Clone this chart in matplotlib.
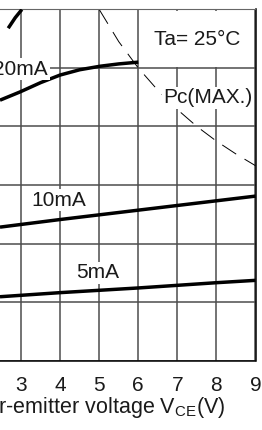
import matplotlib
matplotlib.use("Agg")
import matplotlib.pyplot as plt
from matplotlib.patches import Rectangle

plt.rcParams['font.family'] = ['Liberation Sans', 'DejaVu Sans']
plt.rcParams['lines.scale_dashes'] = False

# collector current curves (x: VCE in V, y: grid units)
vce_30 = [2.67, 2.85, 3.02]
ic_30 = [5.68, 5.86, 6.0]

vce_20 = [2.46, 2.97, 3.5, 4.0, 4.5, 5.02, 5.5, 6.0]
ic_20 = [4.45, 4.59, 4.75, 4.88, 4.97, 5.03, 5.07, 5.10]

vce_10 = [2.46, 4.0, 6.0, 8.0, 9.0]
ic_10 = [2.28, 2.41, 2.57, 2.73, 2.81]

vce_5 = [2.46, 4.0, 6.0, 8.0, 9.0]
ic_5 = [1.09, 1.16, 1.24, 1.33, 1.37]

# maximum collector dissipation curve
vce_pc = [5.0, 5.5, 6.0, 6.5, 7.0, 7.5, 8.0, 8.5, 9.0]
ic_pc = [6.0, 5.45, 5.0, 4.62, 4.29, 4.0, 3.75, 3.53, 3.33]

xticks = [3, 4, 5, 6, 7, 8, 9]
yticks = [0, 1, 2, 3, 4, 5, 6]

fig = plt.figure(figsize=(2.62, 4.30), dpi=100)
ax = fig.add_axes([0.0, 69.5 / 430, 255.5 / 262, 351 / 430])
ax.set_xlim(2.46, 9)
ax.set_ylim(0, 6)
ax.set_xticks(xticks)
ax.set_yticks(yticks)
ax.set_yticklabels([])
ax.tick_params(axis='both', length=0)
ax.tick_params(axis='x', pad=11, labelsize=15, labelcolor='#1a1a1a')
ax.set_axisbelow(True)
ax.grid(True, color='#4d4d4d', lw=1.1)

ax.spines['left'].set_visible(False)
ax.spines['top'].set_color('#666666')
ax.spines['bottom'].set_linewidth(1.1)
ax.spines['right'].set_linewidth(1.1)

# white box for the temperature note
ax.add_patch(Rectangle((6.03, 5.02), 2.94, 0.96, facecolor='white',
                       edgecolor='none', zorder=0.8))

for xs, ys in [(vce_30, ic_30), (vce_20, ic_20), (vce_10, ic_10), (vce_5, ic_5)]:
    ax.plot(xs, ys, color='black', lw=2.5, solid_capstyle='butt', zorder=3)

ax.plot(vce_pc, ic_pc, color='black', lw=0.7, linestyle=(0, (12, 7)), zorder=2)

box = dict(facecolor='white', edgecolor='none', pad=1)
tkw = dict(fontsize=15, color='#1a1a1a', zorder=4, bbox=box)
ax.text(3.69, 4.98, '20mA', ha='right', va='center', **tkw)
ax.text(3.26, 2.74, '10mA', ha='left', va='center', **tkw)
ax.text(4.42, 1.50, '5mA', ha='left', va='center', **tkw)
ax.text(6.64, 4.49, 'Pc(MAX.)', ha='left', va='center', **tkw)
ax.text(7.52, 5.48, 'Ta= 25°C', ha='center', va='center', **tkw)

ax.text(8.23, -0.135, r'Collector-emitter voltage $\mathregular{V_{CE}}$(V)',
        transform=ax.get_xaxis_transform(), ha='right', va='center',
        fontsize=15.5, color='#1a1a1a', clip_on=False)

fig.savefig('out.png', dpi=100)
